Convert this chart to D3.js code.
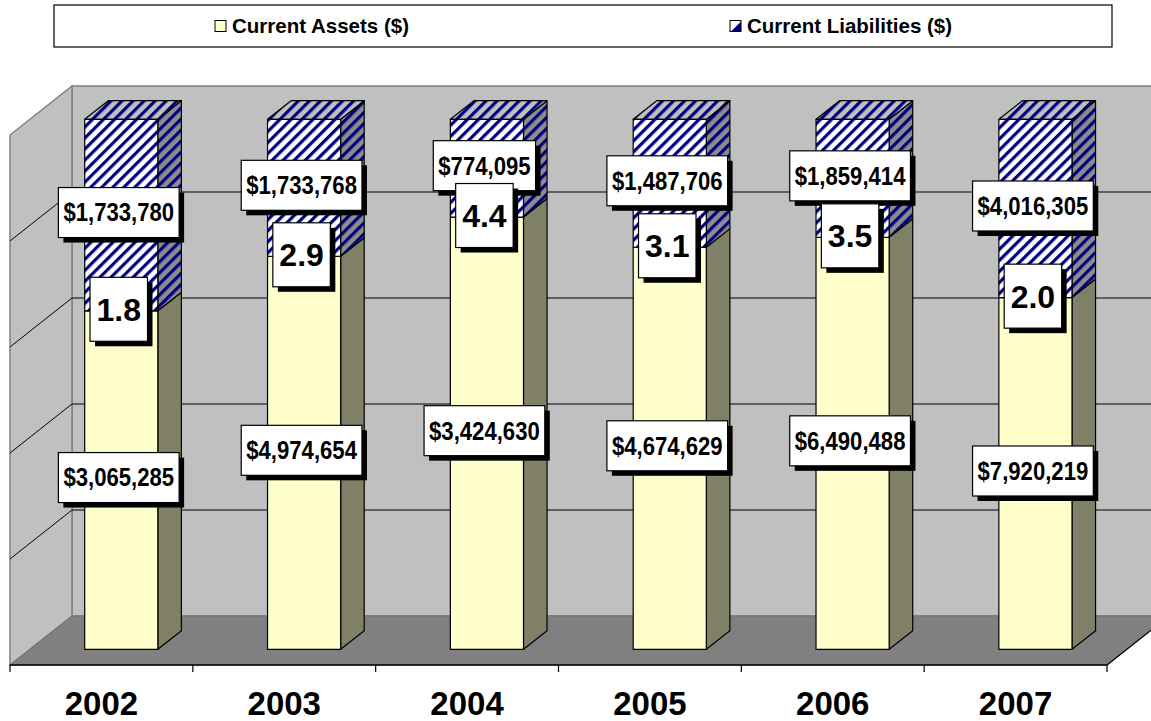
<!DOCTYPE html>
<html>
<head>
<meta charset="utf-8">
<script src="https://cdn.jsdelivr.net/npm/d3@7"></script>
<style>
  html, body { margin: 0; padding: 0; background: #fff; }
  svg { display: block; }
  text { font-family: "Liberation Sans", Arial, sans-serif; font-weight: bold; fill: #000; }
</style>
</head>
<body>
<svg id="chart" width="1151" height="721"></svg>
<script>
// ---- data ----
const years = ["2002", "2003", "2004", "2005", "2006", "2007"];
const currentAssets = [3065285, 4974654, 3424630, 4674629, 6490488, 7920219];
const currentLiabilities = [1733780, 1733768, 774095, 1487706, 1859414, 4016305];
const seriesNames = ["Current Assets ($)", "Current Liabilities ($)"];
const shareTicks = [0, 0.2, 0.4, 0.6, 0.8, 1];

// ---- layout ----
const svg = d3.select("#chart");
const plot = { left: 10, right: 1107, top: 135, bottom: 665 };
const DEPTH = { dx: 62, dy: 49 };          // offset from front plane to back wall
const barFront = 0.32, barBack = 0.70;     // depth span of each column

const x = d3.scaleBand().domain(years).range([plot.left, plot.right]).padding(0);
const y = d3.scaleLinear().domain([0, 1]).range([plot.bottom, plot.top]);
const proj = (px, v, d) => [px + d * DEPTH.dx, y(v) - d * DEPTH.dy];
const pts = arr => arr.map(p => p.join(",")).join(" ");

const fmtMoney = v => "$" + d3.format(",")(v);
const fmtRatio = d3.format(".1f");

// ---- patterns ----
const defs = svg.append("defs");
function stripes(id, bg) {
  const p = defs.append("pattern").attr("id", id)
    .attr("patternUnits", "userSpaceOnUse")
    .attr("width", 7.8).attr("height", 7.8)
    .attr("patternTransform", "rotate(45)");
  p.append("rect").attr("width", 7.8).attr("height", 7.8).attr("fill", bg);
  p.append("rect").attr("x", 0).attr("width", 3.2).attr("height", 7.8).attr("fill", "#000080");
}
stripes("liabFront", "#ffffff");
stripes("liabSide", "#8c8c8c");
stripes("liabTop", "#c0c0c0");

const seriesStyle = {
  assets: { front: "#ffffcc", side: "#808066", top: "#e0e0b0" },
  liabilities: { front: "url(#liabFront)", side: "url(#liabSide)", top: "url(#liabTop)" }
};

// ---- walls and floor ----
const walls = svg.append("g");
const L = plot.left, R = plot.right;
walls.append("polygon")
  .attr("points", pts([proj(L, 0, 1), proj(L, 1, 1), proj(R, 1, 1), proj(R, 0, 1)]))
  .attr("fill", "#c0c0c0").attr("stroke", "#808080").attr("stroke-width", 1.5);
walls.append("polygon")
  .attr("points", pts([proj(L, 0, 0), proj(L, 1, 0), proj(L, 1, 1), proj(L, 0, 1)]))
  .attr("fill", "#c0c0c0").attr("stroke", "#808080").attr("stroke-width", 1.5);
walls.append("polygon")
  .attr("points", pts([proj(L, 0, 0), proj(R, 0, 0), proj(R, 0, 1), proj(L, 0, 1)]))
  .attr("fill", "#808080").attr("stroke", "#707070").attr("stroke-width", 1);

// gridlines on the back and side walls
const grid = shareTicks.filter(t => t > 0 && t < 1);
walls.selectAll(".gback").data(grid).join("line")
  .attr("x1", t => proj(L, t, 1)[0]).attr("y1", t => proj(L, t, 1)[1])
  .attr("x2", t => proj(R, t, 1)[0]).attr("y2", t => proj(R, t, 1)[1])
  .attr("stroke", "#000").attr("stroke-width", 1);
walls.selectAll(".gside").data(grid).join("line")
  .attr("x1", t => proj(L, t, 0)[0]).attr("y1", t => proj(L, t, 0)[1])
  .attr("x2", t => proj(L, t, 1)[0]).attr("y2", t => proj(L, t, 1)[1])
  .attr("stroke", "#000").attr("stroke-width", 1);

// category axis along the front floor edge
const axis = svg.append("g");
axis.append("line").attr("x1", L).attr("y1", y(0)).attr("x2", R).attr("y2", y(0))
  .attr("stroke", "#000").attr("stroke-width", 1.5);
axis.append("line")
  .attr("x1", R).attr("y1", y(0))
  .attr("x2", proj(R, 0, 1)[0]).attr("y2", proj(R, 0, 1)[1])
  .attr("stroke", "#000").attr("stroke-width", 1.2);
const tickX = years.map(yr => x(yr)).concat([R]);
axis.selectAll(".tick").data(tickX).join("line")
  .attr("x1", d => d).attr("x2", d => d)
  .attr("y1", y(0)).attr("y2", y(0) + 7)
  .attr("stroke", "#000").attr("stroke-width", 1.2);
axis.selectAll(".yr").data(years).join("text")
  .attr("x", d => x(d) + x.bandwidth() / 2)
  .attr("y", 715)
  .attr("text-anchor", "middle")
  .attr("font-size", 33)
  .text(d => d);

// ---- stacked 100% columns ----
const rows = years.map((yr, i) => ({ year: yr, assets: currentAssets[i], liabilities: currentLiabilities[i] }));
const stacked = d3.stack().keys(["assets", "liabilities"]).offset(d3.stackOffsetExpand)(rows);
const barW = x.bandwidth() * 0.4;

const bars = svg.append("g");
function column(g, x0, x1, v0, v1, style, withTop) {
  const edge = { stroke: "#000", "stroke-width": 1.2, "stroke-linejoin": "round" };
  const side = g.append("polygon")
    .attr("points", pts([proj(x1, v0, barFront), proj(x1, v0, barBack), proj(x1, v1, barBack), proj(x1, v1, barFront)]))
    .attr("fill", style.side);
  Object.entries(edge).forEach(([k, v]) => side.attr(k, v));
  if (withTop) {
    const top = g.append("polygon")
      .attr("points", pts([proj(x0, v1, barFront), proj(x1, v1, barFront), proj(x1, v1, barBack), proj(x0, v1, barBack)]))
      .attr("fill", style.top);
    Object.entries(edge).forEach(([k, v]) => top.attr(k, v));
  }
  const a = proj(x0, v1, barFront), b = proj(x1, v0, barFront);
  const front = g.append("rect")
    .attr("x", a[0]).attr("y", a[1]).attr("width", b[0] - a[0]).attr("height", b[1] - a[1])
    .attr("fill", style.front);
  Object.entries(edge).forEach(([k, v]) => front.attr(k, v));
}

years.forEach((yr, i) => {
  const g = bars.append("g");
  const x0 = x(yr) + (x.bandwidth() - barW) / 2, x1 = x0 + barW;
  stacked.forEach((s, k) => {
    const [v0, v1] = s[i];
    column(g, x0, x1, v0, v1, seriesStyle[s.key], k === stacked.length - 1);
  });
});

// ---- data labels ----
const labels = svg.append("g");
function boxLabel(cx, cy, txt, fs, padX, h, squeeze) {
  const g = labels.append("g");
  const t = g.append("text").attr("font-size", fs).attr("text-anchor", "middle")
    .attr("x", cx).attr("y", cy + fs * 0.355).text(txt);
  let w = t.node().getComputedTextLength();
  if (squeeze !== 1) {
    w = w * squeeze;
    t.attr("textLength", w).attr("lengthAdjust", "spacingAndGlyphs");
  }
  const bw = w + padX * 2;
  g.insert("rect", "text").attr("x", cx - bw / 2 + 5).attr("y", cy - h / 2 + 5)
    .attr("width", bw).attr("height", h).attr("fill", "#000");
  g.insert("rect", "text").attr("x", cx - bw / 2).attr("y", cy - h / 2)
    .attr("width", bw).attr("height", h).attr("fill", "#fff").attr("stroke", "#000").attr("stroke-width", 1.2);
}

years.forEach((yr, i) => {
  const x0 = x(yr) + (x.bandwidth() - barW) / 2;
  const cx = proj(x0 + barW / 2, 0, barFront)[0] - 2.5;
  stacked.forEach(s => {
    const [v0, v1] = s[i];
    const cy = proj(0, (v0 + v1) / 2, barFront)[1] - 2.5;
    boxLabel(cx, cy, fmtMoney(s[i].data[s.key]), 25, 5, 50, 0.885);
  });
  const boundary = stacked[0][i][1];
  const ratio = currentAssets[i] / currentLiabilities[i];
  boxLabel(cx, proj(0, boundary, barFront)[1] - 1.5, fmtRatio(ratio), 32, 6.5, 64, 1);
});

// ---- legend ----
const legend = svg.append("g");
legend.append("rect").attr("x", 54).attr("y", 5).attr("width", 1058).attr("height", 42)
  .attr("fill", "#fff").attr("stroke", "#000").attr("stroke-width", 1.2);
const legendX = [215, 730];
seriesNames.forEach((name, k) => {
  const lx = legendX[k];
  if (k === 0) {
    legend.append("rect").attr("x", lx).attr("y", 20.5).attr("width", 11).attr("height", 11)
      .attr("fill", "#ffffcc").attr("stroke", "#000").attr("stroke-width", 1);
  } else {
    legend.append("rect").attr("x", lx).attr("y", 20.5).attr("width", 11).attr("height", 11)
      .attr("fill", "#fff");
    legend.append("polygon")
      .attr("points", pts([[lx + 1, 31.5], [lx + 11, 21.5], [lx + 11, 31.5]]))
      .attr("fill", "#000080");
    legend.append("rect").attr("x", lx).attr("y", 20.5).attr("width", 11).attr("height", 11)
      .attr("fill", "none").attr("stroke", "#000").attr("stroke-width", 1);
  }
  legend.append("text").attr("x", lx + 17).attr("y", 33.3).attr("font-size", 20.5).text(name);
});
</script>
</body>
</html>
